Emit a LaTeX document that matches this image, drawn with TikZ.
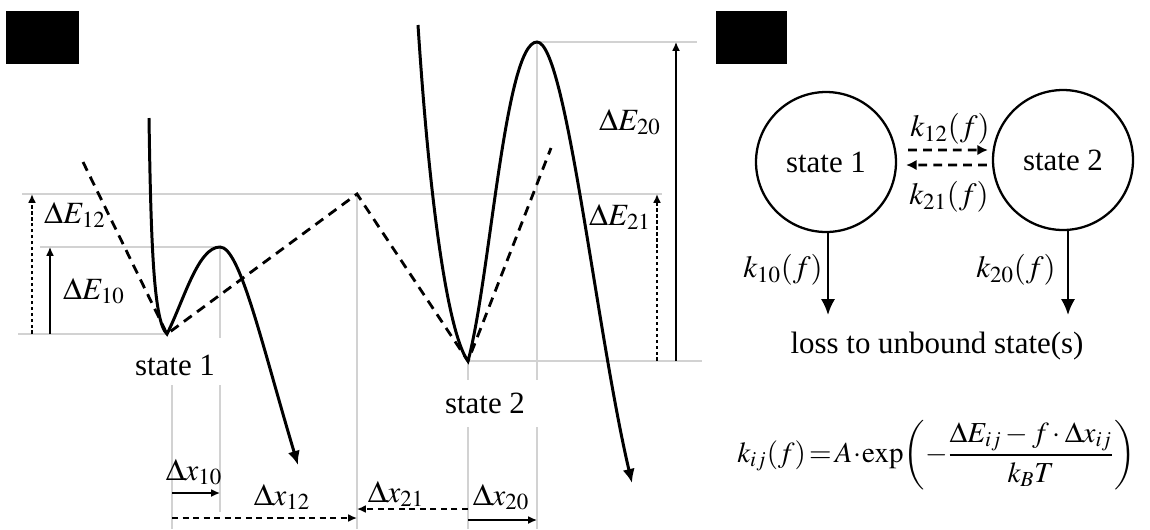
\documentclass[tikz,border=0pt]{standalone}
\usepackage{amsmath}
\usepackage{mathptmx}
\usepackage[no-math]{fontspec}
\setmainfont{Liberation Serif}
\usetikzlibrary{
arrows.meta,
positioning
}
\definecolor{guidegray}{HTML}{D2D2D2}

\begin{document}
\begin{tikzpicture}[
x=0.02cm, y=-0.02cm,
font=\fontsize{17.6}{21}\selectfont,
guideline/.style={draw=guidegray, line width=0.9pt},
well/.style={line width=1.7pt, -{Latex[length=8pt,width=7pt]}},
linear/.style={line width=1.6pt, dash pattern=on 5.5pt off 3.8pt},
solidarrow/.style={line width=0.85pt, -{Latex[length=5pt,width=4.5pt]}},
dotarrow/.style={line width=1.1pt, dash pattern=on 2pt off 1.4pt,
  -{Latex[length=5pt,width=4.5pt]}},
dasharrow/.style={line width=0.95pt, dash pattern=on 3.5pt off 2.5pt,
  -{Latex[length=5pt,width=4.5pt]}},
statecirc/.style={
circle,
draw,
line width=1.3pt,
minimum size=2.8cm,
inner sep=0pt
},
rate/.style={line width=1.5pt, dash pattern=on 5pt off 3.5pt,
  -{Latex[length=6pt,width=6pt]}},
loss/.style={line width=1.3pt, -{Latex[length=9pt,width=8pt]}}
]
\useasboundingbox (0,0) rectangle (1150,529);

% panel tags
\fill (6,11) rectangle (79,64);
\fill (716,11) rectangle (787,64);

% landmarks of the landscape
\coordinate (start1) at (149,118);
\coordinate (min1) at (167,334);
\coordinate (top1) at (220,247);
\coordinate (fall1) at (298,465);
\coordinate (cross) at (357,194);
\coordinate (start2) at (418,25);
\coordinate (min2) at (468,361);
\coordinate (top2) at (537,42);
\coordinate (fall2) at (632,483);
\coordinate (lin1) at (83,162);
\coordinate (lin2) at (551,148);

% guide lines
\draw[guideline] (22,194) -- (662,194);
\draw[guideline] (40,247) -- (top1);
\draw[guideline] (18,334) -- (min1);
\draw[guideline] (min2) -- (702,361);
\draw[guideline] (top2) -- (697,42);
\draw[guideline] (top1) -- (220,338) (220,385) -- (220,512);
\draw[guideline] (172,385) -- (172,529);
\draw[guideline] (cross) -- (357,529);
\draw[guideline] (min2) -- (468,380) (468,427) -- (468,529);
\draw[guideline] (top2) -- (537,380) (537,427) -- (537,529);

% linear landscape
\draw[linear] (lin1) -- (min1) -- (cross) -- (min2) -- (lin2);

% curved landscape
\draw[well] (start1) .. controls (151,250) and (154,322) .. (min1)
  .. controls (184,300) and (198,247) .. (top1)
  .. controls (240,247) and (262,345) .. (fall1);
\draw[well] (start2) .. controls (432,240) and (452,340) .. (min2)
  .. controls (490,280) and (505,42) .. (top2)
  .. controls (566,42) and (596,330) .. (fall2);

% energy barriers
\coordinate (e12a) at (32,334);
\coordinate (e12b) at (32,194);
\coordinate (e10a) at (50,334);
\coordinate (e10b) at (50,247);
\coordinate (e21a) at (657,361);
\coordinate (e21b) at (657,194);
\coordinate (e20a) at (676,361);
\coordinate (e20b) at (676,42);
\draw[dotarrow] (e12a) -- (e12b);
\draw[solidarrow] (e10a) -- (e10b);
\draw[dotarrow] (e21a) -- (e21b);
\draw[solidarrow] (e20a) -- (e20b);
\node (dE12) at (75,215) {$\Delta E_{12}$};
\node (dE10) at (94,291) {$\Delta E_{10}$};
\node (dE21) at (620,217) {$\Delta E_{21}$};
\node (dE20) at (630,122) {$\Delta E_{20}$};

% distances
\coordinate (x10a) at (172,493);
\coordinate (x10b) at (220,493);
\coordinate (x12a) at (172,518);
\coordinate (x12b) at (357,518);
\coordinate (x21a) at (468,509);
\coordinate (x21b) at (357,509);
\coordinate (x20a) at (468,520);
\coordinate (x20b) at (537,520);
\draw[solidarrow] (x10a) -- (x10b);
\draw[dasharrow] (x12a) -- (x12b);
\draw[dasharrow] (x21a) -- (x21b);
\draw[solidarrow] (x20a) -- (x20b);
\node (dx10) at (194,472) {$\Delta x_{10}$};
\node (dx12) at (282,497) {$\Delta x_{12}$};
\node (dx21) at (396,494) {$\Delta x_{21}$};
\node (dx20) at (501,497) {$\Delta x_{20}$};

\node (lab1) at (175,365) {state 1};
\node (lab2) at (485,403) {state 2};

% kinetic scheme
\node[statecirc] (s1) at (826,162) {state 1};
\node[statecirc] (s2) at (1063,160) {state 2};
\coordinate (sink1) at (828,315);
\coordinate (sink2) at (1068,315);

\draw[rate] ([xshift=0.22cm,yshift=0.24cm]s1.east)
  -- ([xshift=-0.08cm,yshift=0.2cm]s2.west);
\draw[rate] ([xshift=-0.1cm,yshift=-0.1cm]s2.west)
  -- ([xshift=0.18cm,yshift=-0.06cm]s1.east);
\draw[loss] (s1.south -| sink1) -- (sink1);
\draw[loss] (s2.south -| sink2) -- (sink2);

\node (k12) at (950,129) {$k_{12}(f)$};
\node (k21) at (949,197) {$k_{21}(f)$};
\node (k10) at (783,270) {$k_{10}(f)$};
\node (k20) at (1016,270) {$k_{20}(f)$};

\node (unbound) at (937,346) {loss to unbound state(s)};

\node[anchor=west, inner sep=0pt] (rate) at (737,455)
{\fontsize{16.5}{20}\selectfont
$k_{ij}(f)\!=\!A\!\cdot\!\exp\!\left(-\dfrac{\Delta E_{ij}-f\cdot\Delta x_{ij}}{k_B T}\right)$};

\end{tikzpicture}
\end{document}
